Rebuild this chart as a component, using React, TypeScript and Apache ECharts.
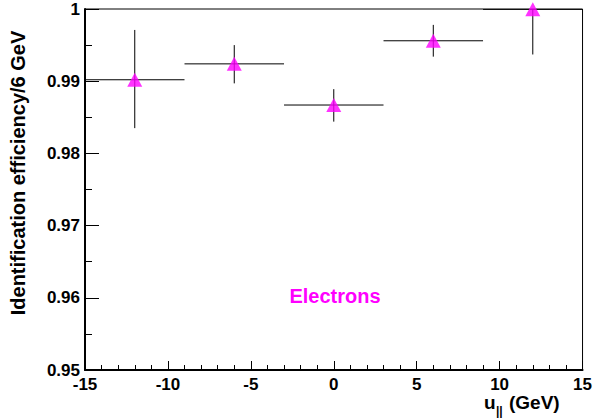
import React, { useEffect, useRef } from "react";
import * as echarts from "echarts";

// Bin centres (GeV) and half widths
const binCenters = [-12, -6, 0, 6, 12];
const binHalfWidths = [3, 3, 3, 3, 3];
// Identification efficiency per bin
const efficiency = [0.9902, 0.9924, 0.9867, 0.9956, 0.99995];
// Error bar ends
const errorLow = [0.9835, 0.9897, 0.9844, 0.9934, 0.9937];
const errorHigh = [0.9971, 0.995, 0.9889, 0.9978, 1.0062];

const yMin = 0.95;
const yMax = 1.0;
const yStep = 0.01;
const xMin = -15;
const xMax = 15;
const xStep = 5;

const FONT = '"Liberation Sans", Arial, Helvetica, sans-serif';

export default function App() {
  const ref = useRef<HTMLDivElement>(null);

  useEffect(() => {
    if (!ref.current) return;
    const chart = echarts.init(ref.current, undefined, { renderer: "svg" });

    const errData = binCenters.map((x, i) => [
      x,
      efficiency[i],
      x - binHalfWidths[i],
      x + binHalfWidths[i],
      errorLow[i],
      errorHigh[i],
    ]);
    const ptData = binCenters.map((x, i) => [x, efficiency[i]]);

    chart.setOption({
      animation: false,
      backgroundColor: "#fff",
      grid: {
        left: 85,
        right: 8,
        top: 9,
        bottom: 49,
        show: true,
        borderColor: "#000",
        borderWidth: 1,
        backgroundColor: "transparent",
      },
      xAxis: {
        type: "value",
        min: xMin,
        max: xMax,
        interval: xStep,
        axisLine: { show: true, onZero: false, lineStyle: { color: "#000", width: 2 } },
        axisTick: { show: true, inside: true, length: 9, lineStyle: { color: "#000" } },
        minorTick: { show: true, splitNumber: 5, length: 5, lineStyle: { color: "#000" } },
        splitLine: { show: false },
        axisLabel: {
          color: "#000",
          fontSize: 17,
          fontWeight: "bold",
          fontFamily: FONT,
          margin: 6,
          formatter: (v: number) => String(Math.round(v)),
        },
      },
      yAxis: {
        type: "value",
        min: yMin,
        max: yMax,
        interval: yStep,
        axisLine: { show: true, onZero: false, lineStyle: { color: "#000", width: 2 } },
        axisTick: { show: true, inside: true, length: 14, lineStyle: { color: "#000" } },
        minorTick: { show: true, splitNumber: 2, length: 7, lineStyle: { color: "#000" } },
        splitLine: { show: false },
        axisLabel: {
          color: "#000",
          fontSize: 17,
          fontWeight: "bold",
          fontFamily: FONT,
          margin: 5,
          padding: [8, 0, 0, 0],
          formatter: (v: number) => String(parseFloat(v.toFixed(3))),
        },
      },
      series: [
        {
          type: "custom",
          data: errData,
          z: 2,
          clip: true,
          renderItem: (params: any, api: any) => {
            const x = api.value(0);
            const y = api.value(1);
            const pL = api.coord([api.value(2), y]);
            const pR = api.coord([api.value(3), y]);
            const pB = api.coord([x, api.value(4)]);
            const pT = api.coord([x, api.value(5)]);
            const cs = params.coordSys;
            const top = Math.max(pT[1], cs.y);
            return {
              type: "group",
              children: [
                {
                  type: "line",
                  shape: { x1: pL[0], y1: pL[1], x2: pR[0], y2: pR[1] },
                  style: { stroke: "#000", lineWidth: 1 },
                },
                {
                  type: "line",
                  shape: { x1: pB[0], y1: pB[1], x2: pT[0], y2: top },
                  style: { stroke: "#000", lineWidth: 1 },
                },
              ],
            };
          },
        },
        {
          type: "scatter",
          data: ptData,
          z: 3,
          clip: false,
          symbol: "triangle",
          symbolSize: [15, 14],
          itemStyle: { color: "#ff00ff" },
        },
      ],
      graphic: [
        {
          type: "text",
          x: 18,
          y: 173,
          rotation: Math.PI / 2,
          style: {
            text: "Identification efficiency/6 GeV",
            fontSize: 20,
            fontWeight: "bold",
            fontFamily: FONT,
            fill: "#000",
            align: "center",
            verticalAlign: "middle",
          },
        },
        {
          type: "text",
          x: 335,
          y: 296,
          style: {
            text: "Electrons",
            fontSize: 20,
            fontWeight: "bold",
            fontFamily: FONT,
            fill: "#ff00ff",
            align: "center",
            verticalAlign: "middle",
          },
        },
        {
          type: "text",
          x: 484,
          y: 402,
          style: {
            text: "u",
            fontSize: 19,
            fontWeight: "bold",
            fontFamily: FONT,
            fill: "#000",
            align: "left",
            verticalAlign: "middle",
          },
        },
        {
          type: "text",
          x: 496,
          y: 411,
          style: {
            text: "||",
            fontSize: 12,
            fontWeight: "bold",
            fontFamily: FONT,
            fill: "#000",
            align: "left",
            verticalAlign: "middle",
          },
        },
        {
          type: "text",
          x: 509,
          y: 402,
          style: {
            text: "(GeV)",
            fontSize: 19,
            fontWeight: "bold",
            fontFamily: FONT,
            fill: "#000",
            align: "left",
            verticalAlign: "middle",
          },
        },
      ],
    });

    return () => chart.dispose();
  }, []);

  return <div ref={ref} style={{ width: 595, height: 419, position: "absolute", left: 0, top: 0 }} />;
}
